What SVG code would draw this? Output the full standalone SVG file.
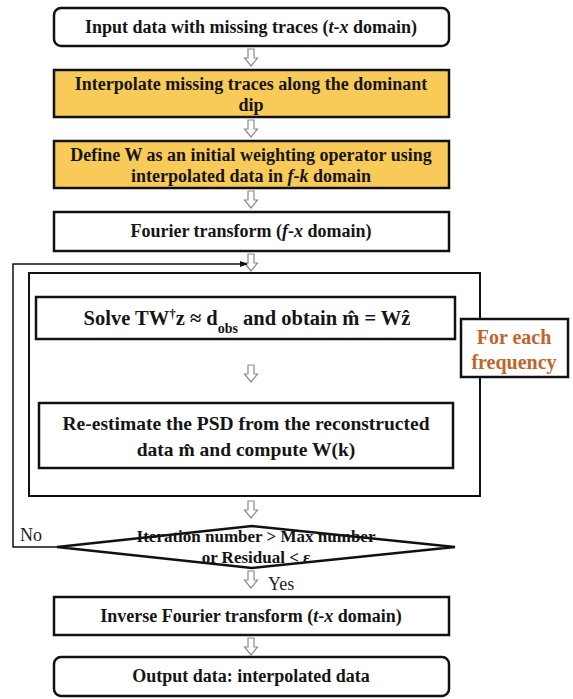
<svg xmlns="http://www.w3.org/2000/svg" width="573" height="699" viewBox="0 0 573 699">
<style>
.box{fill:#fff;stroke:#111;stroke-width:2.5}
.yel{fill:#F8CB58;stroke:#111;stroke-width:2.5}
.t{font-weight:bold;fill:#151515;text-anchor:middle}
.r{fill:#222}
.o{font-weight:bold;fill:#C0662C;text-anchor:middle}
.ba{fill:#fff;stroke:#8a8a8a;stroke-width:1.2}
.ln{fill:none;stroke:#111;stroke-width:1.5}
</style>
<defs>
<path id="blk" d="M-3,0 H3 V9 H6.5 L0,17 L-6.5,9 H-3 Z"/>
<marker id="ah" markerWidth="8" markerHeight="6" refX="7" refY="3" orient="auto" markerUnits="userSpaceOnUse">
<path d="M0,0 L8,3 L0,6 Z" fill="#111"/>
</marker>
</defs>
<rect width="573" height="699" fill="#fff"/>
<g font-family="Liberation Serif, Times New Roman, serif" font-size="18">
<g id="connectors">
<use href="#blk" class="ba" transform="translate(251,49)"/>
<use href="#blk" class="ba" transform="translate(251,120)"/>
<use href="#blk" class="ba" transform="translate(251,191)"/>
<use href="#blk" class="ba" transform="translate(251,254)"/>
<use href="#blk" class="ba" transform="translate(251,365)"/>
<use href="#blk" class="ba" transform="translate(251,501)"/>
<use href="#blk" class="ba" transform="translate(251,571)"/>
<use href="#blk" class="ba" transform="translate(251,638)"/>
<path class="ln" d="M57,547 H13 V264 H247" marker-end="url(#ah)"/>
<text class="r" x="20" y="541" font-family="Liberation Serif, serif">No</text>
<text class="r" x="268" y="590" font-family="Liberation Serif, serif">Yes</text>
</g>
<g id="input">
<rect class="box" x="54" y="8" width="395" height="38" rx="7"/>
<text class="t" x="251" y="33" font-family="Liberation Serif, serif">Input data with missing traces (<tspan font-style="italic">t</tspan>-<tspan font-style="italic">x</tspan> domain)</text>
</g>
<g id="interpolate">
<rect class="yel" x="54" y="70" width="395" height="47"/>
<text class="t" x="251" y="90" font-family="Liberation Serif, serif">Interpolate missing traces along the dominant</text>
<text class="t" x="251" y="111" font-family="Liberation Serif, serif">dip</text>
</g>
<g id="define">
<rect class="yel" x="54" y="141" width="395" height="47"/>
<text class="t" x="251" y="161" font-family="Liberation Serif, serif">Define W as an initial weighting operator using</text>
<text class="t" x="251" y="182" font-family="Liberation Serif, serif">interpolated data in <tspan font-style="italic">f</tspan>-<tspan font-style="italic">k</tspan> domain</text>
</g>
<g id="fourier">
<rect class="box" x="54" y="212" width="395" height="39"/>
<text class="t" x="251" y="237" font-family="Liberation Serif, serif">Fourier transform (<tspan font-style="italic">f</tspan>-<tspan font-style="italic">x</tspan> domain)</text>
</g>
<g id="loop">
<rect x="29" y="273" width="451" height="223" fill="none" stroke="#111" stroke-width="2"/>
</g>
<g id="solve">
<rect class="box" x="36" y="297" width="419" height="42"/>
<text class="t" x="247" y="325" font-size="20.5" font-family="Liberation Serif, serif">Solve TW<tspan baseline-shift="super" font-size="13">†</tspan>z ≈ d<tspan baseline-shift="sub" font-size="14">obs</tspan> and obtain m&#x0302; = Wz&#x0302;</text>
</g>
<g id="reestimate">
<rect class="box" x="39" y="403" width="414" height="65"/>
<text class="t" x="246" y="430" font-size="19.5" font-family="Liberation Serif, serif">Re-estimate the PSD from the reconstructed</text>
<text class="t" x="246" y="456" font-size="19.5" font-family="Liberation Serif, serif">data m&#x0302; and compute W(k)</text>
</g>
<g id="foreach">
<rect class="box" x="461" y="319" width="107" height="58"/>
<text class="o" x="514" y="344" font-size="20" font-family="Liberation Serif, serif">For each</text>
<text class="o" x="514" y="369" font-size="20" font-family="Liberation Serif, serif">frequency</text>
</g>
<g id="decision">
<polygon points="57,547 252,526 455,547 252,568" fill="#fff" stroke="#111" stroke-width="2.5"/>
<text class="t" x="256" y="542" font-size="17" font-family="Liberation Serif, serif">Iteration number &gt; Max number</text>
<text class="t" x="256" y="563" font-size="17" font-family="Liberation Serif, serif">or Residual &lt; ε</text>
</g>
<g id="inverse">
<rect class="box" x="54" y="597" width="395" height="38"/>
<text class="t" x="251" y="622" font-family="Liberation Serif, serif">Inverse Fourier transform (<tspan font-style="italic">t</tspan>-<tspan font-style="italic">x</tspan> domain)</text>
</g>
<g id="output">
<rect class="box" x="54" y="657" width="395" height="39" rx="7"/>
<text class="t" x="251" y="682" font-family="Liberation Serif, serif">Output data:  interpolated data</text>
</g>
</g>
</svg>
